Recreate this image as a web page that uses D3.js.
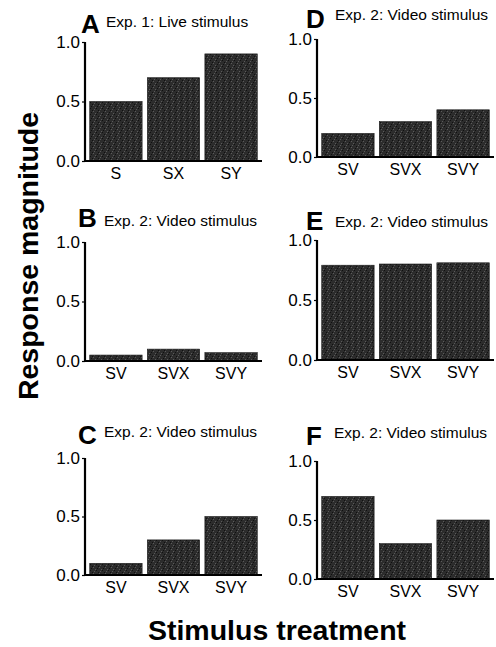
<!DOCTYPE html>
<html>
<head>
<meta charset="utf-8">
<script src="https://cdn.jsdelivr.net/npm/d3@7"></script>
<style>
  body { margin: 0; background: #fff; }
  text { font-family: "Liberation Sans", Arial, sans-serif; fill: #000; }
</style>
</head>
<body>
<div id="chart"></div>
<script>
// Panel data
const panelLetters = ["A", "B", "C", "D", "E", "F"];
const panelTitles = [
    "Exp. 1: Live stimulus",
    "Exp. 2: Video stimulus",
    "Exp. 2: Video stimulus",
    "Exp. 2: Video stimulus",
    "Exp. 2: Video stimulus",
    "Exp. 2: Video stimulus"
];
const categoriesExp1 = ["S", "SX", "SY"];
const categoriesExp2 = ["SV", "SVX", "SVY"];
const valuesA = [0.5, 0.7, 0.9];
const valuesB = [0.05, 0.1, 0.07];
const valuesC = [0.1, 0.3, 0.5];
const valuesD = [0.2, 0.3, 0.4];
const valuesE = [0.79, 0.8, 0.81];
const valuesF = [0.7, 0.3, 0.5];
const yTicks = [0, 0.5, 1.0];

const width = 496;
const height = 647;

const svg = d3.select("#chart")
    .append("svg")
    .attr("width", width)
    .attr("height", height);

// Stippled dark fill like the printed bars
const defs = svg.append("defs");
const pat = defs.append("pattern")
    .attr("id", "stipple")
    .attr("patternUnits", "userSpaceOnUse")
    .attr("width", 6)
    .attr("height", 6);
pat.append("rect").attr("width", 6).attr("height", 6).attr("fill", "#2c2c2c");
[[0, 0], [3, 3], [1, 4], [4, 1], [2, 2], [5, 5]].forEach(([x, y], i) => {
    pat.append("rect").attr("x", x).attr("y", y).attr("width", 1).attr("height", 1)
        .attr("fill", i % 2 ? "#5a5a5a" : "#101010");
});

// layout of each panel: axis x and y positions for 1.0 and 0.0
const layout = [
    { x: 85, top: 42, bottom: 161, lx: 81, ly: 33, tx: 106, ty: 27 },
    { x: 85, top: 242, bottom: 361, lx: 78, ly: 227, tx: 104, ty: 226 },
    { x: 85, top: 458, bottom: 575, lx: 78, ly: 444, tx: 104, ty: 437 },
    { x: 317, top: 39, bottom: 157, lx: 306, ly: 28, tx: 335, ty: 20 },
    { x: 317, top: 240, bottom: 360, lx: 306, ly: 230, tx: 335, ty: 227 },
    { x: 317, top: 461, bottom: 579, lx: 306, ly: 445, tx: 334, ty: 438 }
];
const allValues = [valuesA, valuesB, valuesC, valuesD, valuesE, valuesF];

layout.forEach((p, i) => {
    const cats = i === 0 ? categoriesExp1 : categoriesExp2;
    const vals = allValues[i];
    const g = svg.append("g");

    const x = d3.scaleBand()
        .domain(cats)
        .range([p.x + 3, p.x + 174])
        .paddingInner(0.09)
        .paddingOuter(0.03);
    const y = d3.scaleLinear()
        .domain([0, 1])
        .range([p.bottom, p.top]);

    // bars
    g.selectAll("rect.bar")
        .data(vals)
        .join("rect")
        .attr("class", "bar")
        .attr("x", (d, j) => x(cats[j]))
        .attr("y", d => y(d))
        .attr("width", x.bandwidth())
        .attr("height", d => y(0) - y(d))
        .attr("fill", "url(#stipple)")
        .attr("stroke", "#1a1a1a")
        .attr("stroke-width", 0.6);

    // y axis
    const yAxis = g.append("g")
        .attr("transform", `translate(${p.x},0)`)
        .call(d3.axisLeft(y).tickValues(yTicks).tickFormat(d3.format(".1f")).tickSize(3).tickPadding(2));
    yAxis.select(".domain").attr("stroke-width", 2.2).attr("d", `M0,${p.top}V${p.bottom}`);
    yAxis.selectAll(".tick line").attr("stroke-width", 1.2);
    yAxis.selectAll(".tick text").attr("font-size", 17).attr("font-family", "Liberation Sans, Arial, sans-serif");

    // x axis
    const xAxis = g.append("g")
        .attr("transform", `translate(0,${p.bottom})`)
        .call(d3.axisBottom(x).tickSize(0).tickPadding(7));
    xAxis.select(".domain").attr("stroke-width", 2.2).attr("d", `M${p.x - 1},0H${p.x + 177}`);
    xAxis.selectAll(".tick text").attr("font-size", 16).attr("font-family", "Liberation Sans, Arial, sans-serif");

    // panel letter and title
    svg.append("text")
        .attr("x", p.lx)
        .attr("y", p.ly)
        .attr("font-size", 26)
        .attr("font-weight", "bold")
        .text(panelLetters[i]);
    svg.append("text")
        .attr("x", p.tx)
        .attr("y", p.ty)
        .attr("font-size", 15.5)
        .text(panelTitles[i]);
});

// axis titles
svg.append("text")
    .attr("transform", "translate(38,256) rotate(-90)")
    .attr("text-anchor", "middle")
    .attr("font-size", 28.5)
    .attr("font-weight", "bold")
    .text("Response magnitude");

svg.append("text")
    .attr("x", 277)
    .attr("y", 640)
    .attr("text-anchor", "middle")
    .attr("font-size", 28.5)
    .attr("font-weight", "bold")
    .text("Stimulus treatment");
</script>
</body>
</html>
